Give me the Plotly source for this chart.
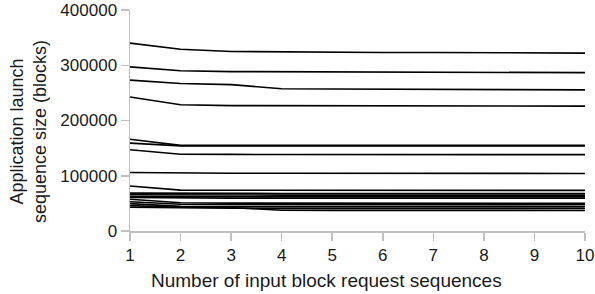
import plotly.graph_objects as go

x_values = [1, 2, 3, 4, 5, 6, 7, 8, 9, 10]

series = [
    [340000, 329000, 325000, 324000, 323500, 323200, 323000, 322800, 322500, 322000],
    [297000, 290000, 288500, 288200, 288000, 287600, 287400, 287200, 287000, 286600],
    [273000, 267000, 265000, 257500, 257000, 256600, 256400, 256200, 256000, 255500],
    [242500, 228500, 227000, 226800, 226600, 226500, 226400, 226300, 226200, 226000],
    [166000, 155000, 155000, 155000, 155000, 155000, 155000, 155000, 155000, 155000],
    [159000, 154000, 154000, 154000, 154000, 154000, 154000, 154000, 154000, 154000],
    [147000, 139000, 138600, 138500, 138400, 138400, 138300, 138300, 138200, 138200],
    [106000, 105000, 104600, 104500, 104400, 104400, 104300, 104300, 104200, 104200],
    [81500, 74000, 73800, 73700, 73600, 73600, 73500, 73500, 73500, 73500],
    [68500, 68000, 68000, 68000, 68000, 68000, 68000, 68000, 68000, 68000],
    [65500, 65000, 65000, 65000, 65000, 65000, 65000, 65000, 65000, 65000],
    [62500, 62000, 62000, 62000, 62000, 62000, 62000, 62000, 62000, 62000],
    [60500, 59500, 59500, 59500, 59500, 59500, 59500, 59500, 59500, 59500],
    [57500, 51000, 50500, 50300, 50200, 50200, 50100, 50100, 50100, 50000],
    [53000, 48500, 48000, 47800, 47700, 47600, 47600, 47500, 47500, 47500],
    [49500, 44500, 44200, 44100, 44000, 44000, 44000, 44000, 44000, 44000],
    [46000, 43000, 42500, 37500, 37400, 37300, 37300, 37200, 37200, 37200],
    [43000, 41500, 41200, 41000, 41000, 41000, 41000, 41000, 41000, 41000],
]

y_ticks = [0, 100000, 200000, 300000, 400000]
x_ticks = [1, 2, 3, 4, 5, 6, 7, 8, 9, 10]

x_title = "Number of input block request sequences"
y_title = "Application launch<br>sequence size (blocks)"

fig = go.Figure()
for s in series:
    fig.add_trace(go.Scatter(x=x_values, y=s, mode="lines",
                             line=dict(color="black", width=1.6),
                             showlegend=False, hoverinfo="skip"))

font_family = "Liberation Sans, Arial, sans-serif"
axis_color = "#c0c0c0"
text_color = "#1a1a1a"

fig.update_layout(
    width=595, height=294,
    margin=dict(l=130, r=10, t=10, b=63),
    paper_bgcolor="white", plot_bgcolor="white",
    font=dict(family=font_family, size=17, color=text_color),
    xaxis=dict(
        range=[1, 10], tickvals=x_ticks, ticktext=[str(v) for v in x_ticks],
        showgrid=False, zeroline=False, showline=True, linecolor=axis_color, linewidth=1.5,
        ticks="outside", ticklen=8, tickcolor=axis_color, tickwidth=1.5,
        tickfont=dict(size=17, color=text_color), automargin=False,
    ),
    yaxis=dict(
        range=[0, 400000], tickvals=y_ticks, ticktext=[str(v) for v in y_ticks],
        showgrid=False, zeroline=False, showline=True, linecolor=axis_color, linewidth=1.5,
        ticks="outside", ticklen=8, tickcolor=axis_color, tickwidth=1.5,
        tickfont=dict(size=17, color=text_color), automargin=False,
    ),
    annotations=[
        dict(text=x_title, xref="paper", yref="paper", x=0.432, y=-0.222,
             xanchor="center", yanchor="middle", showarrow=False,
             font=dict(size=19, color=text_color)),
        dict(text=y_title, xref="paper", yref="paper", x=-0.222, y=0.4525,
             xanchor="center", yanchor="middle", showarrow=False, textangle=-90,
             font=dict(size=18, color=text_color)),
    ],
)

fig.write_html("out.html", config={"displayModeBar": False, "staticPlot": True},
               post_script="document.body.style.margin='0';document.body.style.overflow='hidden';")
